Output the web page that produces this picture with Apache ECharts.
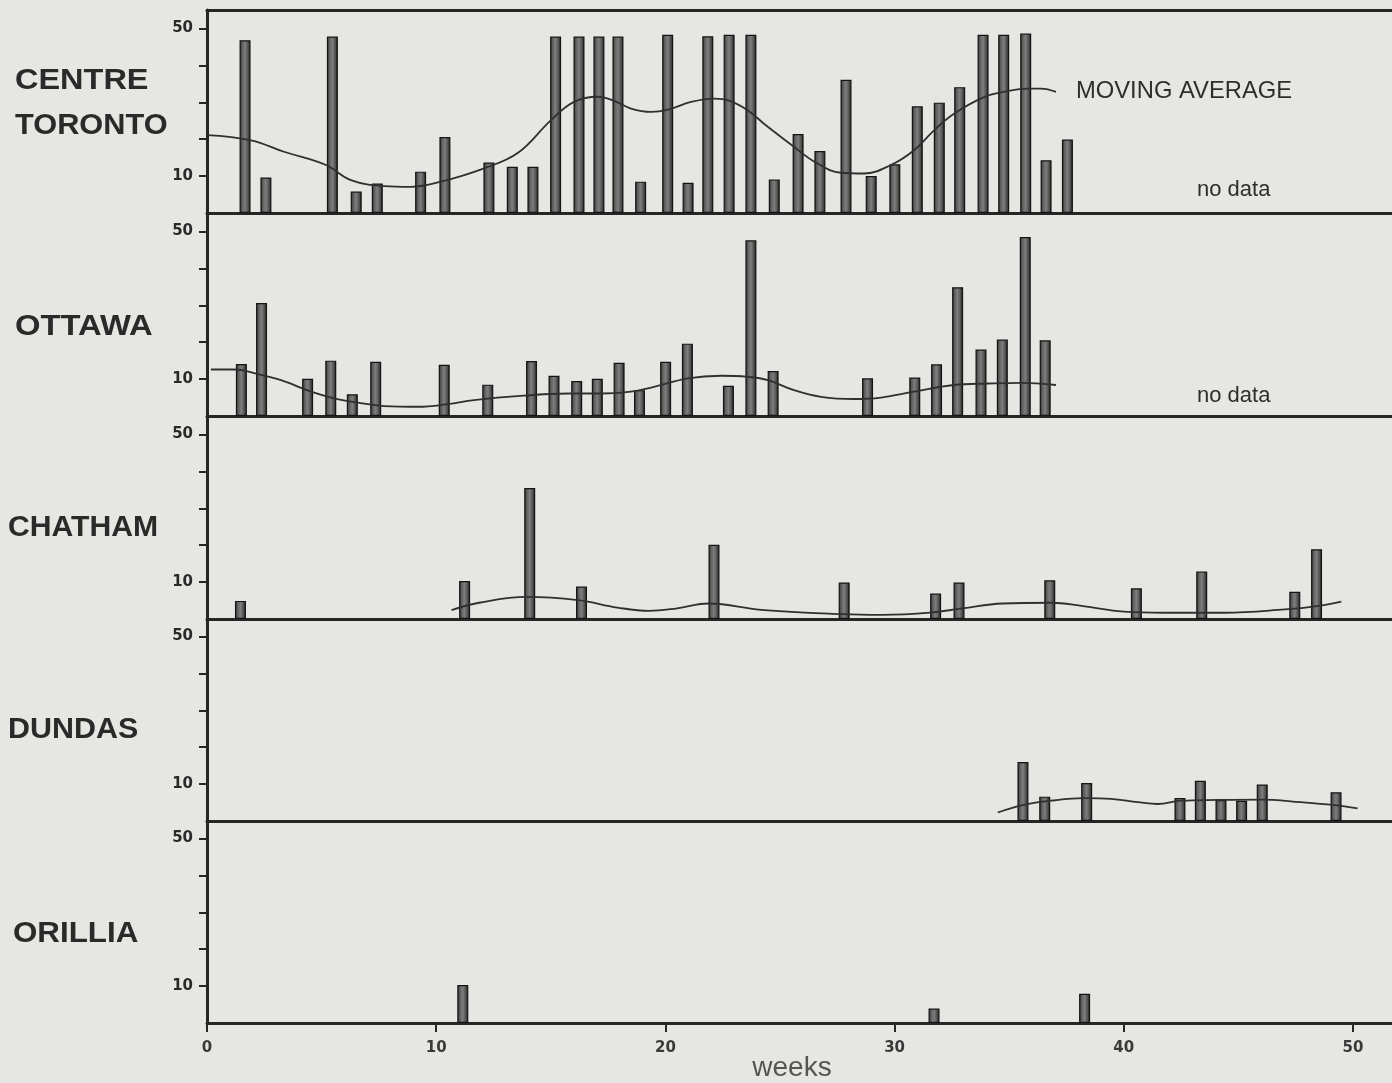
<!DOCTYPE html>
<html>
<head>
<meta charset="utf-8">
<script src="https://cdn.jsdelivr.net/npm/echarts@6/dist/echarts.min.js"></script>
<style>
html, body { margin: 0; padding: 0; background: #e6e6e3; }
#chart { width: 1392px; height: 1083px; }
</style>
</head>
<body>
<div id="chart"></div>
<script>
// tick marks / labels
var weekTicks = [0, 10, 20, 30, 40, 50];
var countTicks = [10, 20, 30, 40, 50];
var countLabels = [10, 50];

// CENTRE TORONTO
var torontoWeeks = [1.66, 2.57, 5.47, 6.51, 7.43, 9.32, 10.38, 12.30, 13.32, 14.22, 15.21, 16.23, 17.10, 17.93, 18.92, 20.10, 20.99, 21.85, 22.78, 23.73, 24.75, 25.79, 26.74, 27.88, 28.98, 30.01, 30.99, 31.95, 32.84, 33.86, 34.76, 35.72, 36.61, 37.54];
var torontoCases = [46.8, 9.6, 47.8, 5.8, 8.0, 11.2, 20.6, 13.7, 12.5, 12.5, 47.8, 47.8, 47.8, 47.8, 8.5, 48.3, 8.2, 47.9, 48.3, 48.3, 9.1, 21.4, 16.8, 36.1, 10.0, 13.2, 28.9, 29.9, 34.1, 48.3, 48.3, 48.6, 14.3, 19.9];
var torontoMaWeeks = [0, 1.92, 3.36, 5.19, 6.28, 7.72, 8.9, 10.21, 12.09, 13.57, 15.0, 16.01, 17.06, 17.76, 18.5, 19.37, 20.11, 21.12, 22.13, 22.75, 23.6, 24.3, 25.62, 26.5, 27.66, 28.66, 29.84, 30.85, 31.72, 32.59, 33.9, 34.77, 35.82, 36.39, 37.04];
var torontoMa = [21.1, 19.7, 16.6, 13.0, 8.9, 7.3, 7.1, 8.5, 12.1, 16.3, 25.1, 30.1, 31.5, 30.4, 28.3, 27.4, 28.0, 30.1, 31.0, 30.5, 27.8, 24.2, 17.9, 13.9, 10.9, 10.7, 13.0, 17.0, 22.4, 26.9, 31.4, 32.8, 33.7, 33.7, 32.8];

// OTTAWA
var ottawaWeeks = [1.50, 2.38, 4.39, 5.40, 6.34, 7.36, 10.35, 12.25, 14.16, 15.14, 16.13, 17.03, 17.98, 18.87, 20.01, 20.96, 22.75, 23.73, 24.70, 28.82, 30.88, 31.83, 32.75, 33.77, 34.70, 35.70, 36.57];
var ottawaCases = [14.1, 30.6, 10.1, 15.0, 5.9, 14.7, 13.9, 8.5, 14.9, 10.9, 9.5, 10.1, 14.4, 7.0, 14.7, 19.6, 8.2, 47.6, 12.2, 10.2, 10.4, 14.0, 34.9, 18.0, 20.7, 48.5, 20.5];
var ottawaMaWeeks = [0.17, 1.18, 2.14, 3.23, 4.54, 5.54, 6.59, 7.72, 9.21, 10.51, 11.65, 13.83, 15.75, 17.19, 18.5, 19.5, 20.98, 22.43, 23.6, 24.48, 25.61, 26.79, 28.23, 29.41, 30.85, 32.59, 34.08, 35.51, 37.04];
var ottawaMa = [12.6, 12.6, 11.5, 9.7, 6.6, 4.8, 3.6, 2.7, 2.5, 3.2, 4.3, 5.5, 6.1, 6.1, 6.6, 7.9, 10.2, 10.9, 10.6, 9.7, 7.0, 5.2, 4.6, 5.0, 6.6, 8.4, 8.8, 9.0, 8.4];

// CHATHAM
var chathamWeeks = [1.46, 11.24, 14.08, 16.34, 22.12, 27.8, 31.79, 32.81, 36.77, 40.55, 43.4, 47.46, 48.41];
var chathamCases = [4.9, 10.3, 35.5, 8.8, 20.1, 9.9, 6.9, 9.9, 10.5, 8.3, 12.9, 7.4, 18.9];
var chathamMaWeeks = [10.67, 11.87, 13.94, 16.19, 17.91, 19.29, 20.51, 21.88, 24.17, 27.69, 29.45, 31.54, 32.96, 34.72, 36.82, 38.22, 40.0, 41.75, 44.39, 47.03, 48.43, 49.49];
var chathamMa = [2.4, 4.4, 6.0, 5.1, 3.1, 2.2, 2.9, 4.2, 2.5, 1.3, 1.1, 1.7, 2.9, 4.2, 4.4, 3.5, 2.0, 1.7, 1.7, 2.6, 3.5, 4.7];

// DUNDAS
var dundasWeeks = [35.6, 36.55, 38.38, 42.45, 43.34, 44.24, 45.14, 46.04, 49.26];
var dundasCases = [16.0, 6.6, 10.3, 6.2, 10.9, 5.7, 5.5, 9.9, 7.8];
var dundasMaWeeks = [34.5, 35.59, 36.82, 38.28, 39.44, 40.61, 41.48, 42.5, 44.1, 45.99, 47.73, 49.18, 50.2];
var dundasMa = [2.3, 4.3, 5.5, 6.2, 6.0, 5.1, 4.6, 5.5, 5.7, 5.8, 5.1, 4.3, 3.4];

// ORILLIA
var orilliaWeeks = [11.16, 31.72, 38.29];
var orilliaCases = [10.3, 3.9, 7.9];

var panels = [
	{ weeks: torontoWeeks, cases: torontoCases, maWeeks: torontoMaWeeks, ma: torontoMa },
	{ weeks: ottawaWeeks, cases: ottawaCases, maWeeks: ottawaMaWeeks, ma: ottawaMa },
	{ weeks: chathamWeeks, cases: chathamCases, maWeeks: chathamMaWeeks, ma: chathamMa },
	{ weeks: dundasWeeks, cases: dundasCases, maWeeks: dundasMaWeeks, ma: dundasMa },
	{ weeks: orilliaWeeks, cases: orilliaCases, maWeeks: [], ma: [] }
];

var ink = '#262626';
var gridTops = [10, 213, 416, 618, 820];
var gridLeft = 207;
var xMax = (1392 - gridLeft) / 22.92;

function pairs(xs, ys) {
	var out = [];
	for (var i = 0; i < xs.length; i++) {
		out.push([xs[i], ys[i]]);
	}
	return out;
}

var barColor = new echarts.graphic.LinearGradient(0, 0, 1, 0, [
	{ offset: 0, color: '#262626' },
	{ offset: 0.22, color: '#5e5e5e' },
	{ offset: 0.5, color: '#7e7e7e' },
	{ offset: 0.78, color: '#505050' },
	{ offset: 1, color: '#161616' }
]);

var grids = [], xAxes = [], yAxes = [], series = [];
for (var i = 0; i < panels.length; i++) {
	var last = i == panels.length - 1;
	grids.push({ left: gridLeft, right: 0, top: gridTops[i], height: 203 });
	xAxes.push({
		gridIndex: i, type: 'value', min: 0, max: xMax,
		axisLine: { show: true, lineStyle: { color: ink, width: 3 } },
		axisTick: { show: last, customValues: weekTicks, length: 9, lineStyle: { color: ink, width: 2 } },
		axisLabel: {
			show: last, customValues: weekTicks, margin: 18,
			fontFamily: 'DejaVu Sans', fontWeight: 'bold', fontSize: 15, color: '#3a3a3a'
		},
		splitLine: { show: false }
	});
	yAxes.push({
		gridIndex: i, type: 'value', min: 0, max: 55,
		axisLine: { show: true, onZero: false, lineStyle: { color: ink, width: 3 } },
		axisTick: { show: true, customValues: countTicks, length: 8, lineStyle: { color: ink, width: 2 } },
		axisLabel: {
			customValues: countLabels, margin: 14,
			fontFamily: 'DejaVu Sans', fontWeight: 'bold', fontSize: 15, color: '#2a2a2a'
		},
		splitLine: { show: false }
	});
	series.push({
		type: 'bar', xAxisIndex: i, yAxisIndex: i,
		data: pairs(panels[i].weeks, panels[i].cases),
		barWidth: 11, silent: true,
		itemStyle: { color: barColor, borderColor: '#141414', borderWidth: 1.2 }
	});
	if (panels[i].ma.length) {
		series.push({
			type: 'line', xAxisIndex: i, yAxisIndex: i,
			data: pairs(panels[i].maWeeks, panels[i].ma),
			smooth: 0.4, showSymbol: false, silent: true, z: 5,
			lineStyle: { color: '#303030', width: 1.8 }
		});
	}
}
// top frame line of the first panel
xAxes.push({
	gridIndex: 0, type: 'value', position: 'top', min: 0, max: xMax,
	axisLine: { show: true, lineStyle: { color: ink, width: 3 } },
	axisTick: { show: false }, axisLabel: { show: false }, splitLine: { show: false }
});

function label(txt, x, y, size, sx, extra) {
	var o = {
		type: 'text', x: x, y: y, scaleX: sx || 1,
		style: {
			text: txt, fontFamily: 'Liberation Sans', fontSize: size,
			fill: '#262626', textAlign: 'left', textVerticalAlign: 'middle'
		}
	};
	if (extra) {
		for (var k in extra) o.style[k] = extra[k];
	}
	return o;
}

var bold = { fontWeight: 'bold', fill: '#2a2a2a' };

var chart = echarts.init(document.getElementById('chart'));
chart.setOption({
	backgroundColor: '#e6e6e3',
	animation: false,
	grid: grids,
	xAxis: xAxes,
	yAxis: yAxes,
	series: series,
	graphic: [
		label('CENTRE', 15, 81, 29, 1.12, bold),
		label('TORONTO', 15, 126, 29, 1.06, bold),
		label('OTTAWA', 15, 327, 29, 1.13, bold),
		label('CHATHAM', 8, 528, 29, 1.04, bold),
		label('DUNDAS', 8, 730, 29, 1.05, bold),
		label('ORILLIA', 13, 934, 29, 1.08, bold),
		label('MOVING AVERAGE', 1076, 91, 24, 0.99, { fill: '#2e2e2e' }),
		label('no data', 1197, 190, 22, 1, { fill: '#2e2e2e' }),
		label('no data', 1197, 396, 22, 1, { fill: '#2e2e2e' }),
		label('weeks', 792, 1068, 28, 1, { fill: '#555555', textAlign: 'center' })
	]
});
</script>
</body>
</html>
